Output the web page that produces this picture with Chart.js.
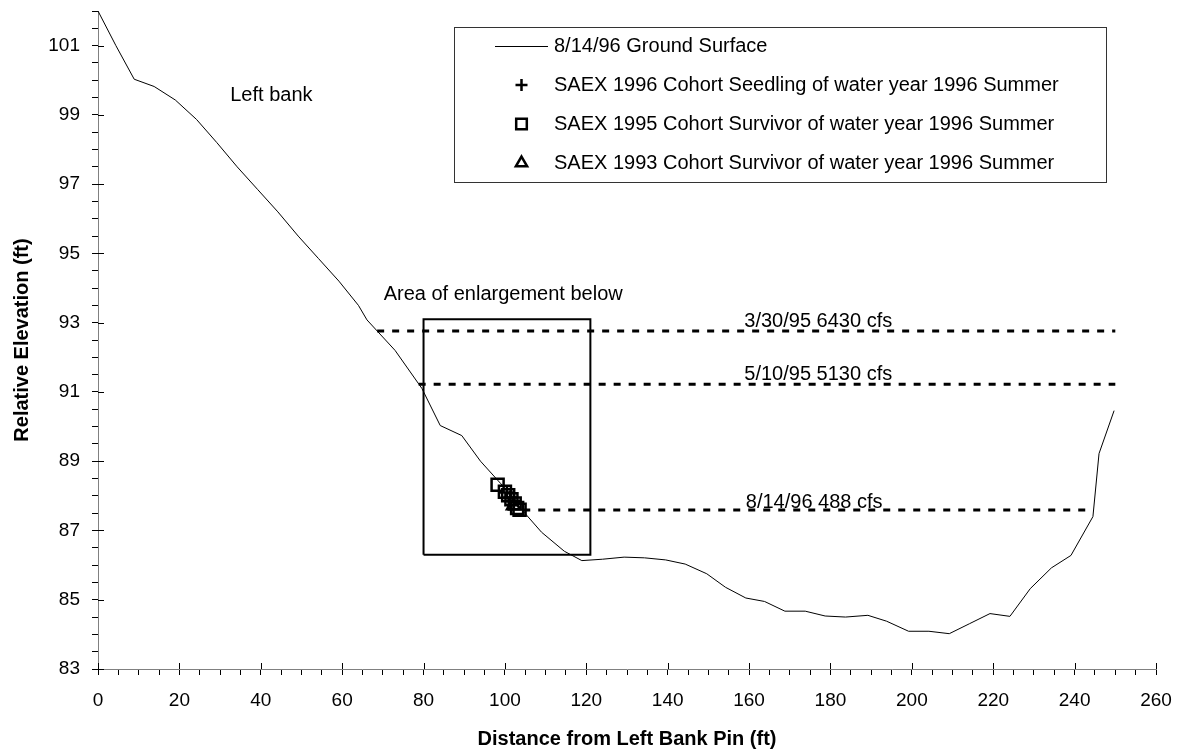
<!DOCTYPE html>
<html>
<head>
<meta charset="utf-8">
<script src="https://cdn.jsdelivr.net/npm/chart.js@4.4.0/dist/chart.umd.min.js"></script>
<style>
  body { margin: 0; background: #fff; }
  #wrap { width: 1181px; height: 754px; }
</style>
</head>
<body>
<div id="wrap"><canvas id="chart" width="1181" height="754"></canvas></div>
<script>
// ground survey 8/14/96
const groundDist = [0, 4.4, 8.9, 13.8, 19.0, 24.2, 29.2, 34.2, 39.2, 44.2, 49.2, 54.2, 59.2, 64.0, 66.1, 73.0, 79.6,
  84.1, 89.4, 94.0, 99.0, 104.0, 109.0, 114.6, 118.9, 124.0, 129.3, 134.3, 139.5, 144.3, 149.6, 154.2, 159.2,
  163.8, 168.8, 173.8, 178.7, 183.7, 189.2, 193.8, 199.2, 204.2, 209.2, 214.2, 219.2, 224.1, 229.1, 234.3,
  239.1, 244.5, 246.0, 249.7];
const groundElev = [102.0, 101.0, 100.03, 99.82, 99.43, 98.87, 98.2, 97.5, 96.85, 96.2, 95.5, 94.85, 94.2, 93.5, 93.08, 92.2, 91.1,
  90.03, 89.74, 89.0, 88.35, 87.62, 86.95, 86.4, 86.13, 86.17, 86.23, 86.21, 86.15, 86.03, 85.75, 85.36, 85.05,
  84.95, 84.67, 84.67, 84.53, 84.5, 84.55, 84.38, 84.09, 84.09, 84.02, 84.31, 84.6, 84.52, 85.32, 85.92,
  86.28, 87.4, 89.22, 90.46];

// plants
const seedling96Dist = [100.5, 101.3, 102.2];
const seedling96Elev = [88.1, 87.95, 87.85];
const survivor95Dist = [98.2, 100.0, 100.8, 101.6, 102.4, 103.0, 103.6];
const survivor95Elev = [88.32, 88.12, 88.02, 87.9, 87.78, 87.65, 87.6];
const survivor93Dist = [102.1];
const survivor93Elev = [87.72];

// water surfaces
const flowLabels = ['3/30/95 6430 cfs', '5/10/95 5130 cfs', '8/14/96 488 cfs'];
const flowElev = [92.76, 91.22, 87.59];
const flowStart = [68.6, 78.8, 104.5];
const flowEnd = [250, 250, 244.5];

// enlargement box corners
const boxDist = [80, 80, 121, 121, 80];
const boxElev = [86.3, 93.1, 93.1, 86.3, 86.3];

const seriesNames = ['8/14/96 Ground Surface',
  'SAEX 1996 Cohort Seedling of water year 1996 Summer',
  'SAEX 1995 Cohort Survivor of water year 1996 Summer',
  'SAEX 1993 Cohort Survivor of water year 1996 Summer'];

const xTicksMajor = [0, 20, 40, 60, 80, 100, 120, 140, 160, 180, 200, 220, 240, 260];
const yTicksMajor = [83, 85, 87, 89, 91, 93, 95, 97, 99, 101];

const FONT = "'Liberation Sans', Arial, sans-serif";

function pts(xs, ys) { return xs.map((v, i) => ({ x: v, y: ys[i] })); }

const datasets = [
  { label: seriesNames[0], data: pts(groundDist, groundElev), showLine: true, borderColor: '#000',
    borderWidth: 1, pointRadius: 0, legendKind: 'line' },
  { label: seriesNames[1], data: pts(seedling96Dist, seedling96Elev), pointStyle: 'cross', pointRadius: 7,
    borderColor: '#000', borderWidth: 2.5, backgroundColor: 'rgba(0,0,0,0)', legendKind: 'point' },
  { label: seriesNames[2], data: pts(survivor95Dist, survivor95Elev), pointStyle: 'rect', pointRadius: 8.5,
    borderColor: '#000', borderWidth: 2.5, backgroundColor: 'rgba(0,0,0,0)', legendKind: 'point' },
  { label: seriesNames[3], data: pts(survivor93Dist, survivor93Elev), pointStyle: 'triangle', pointRadius: 7.5,
    borderColor: '#000', borderWidth: 2.5, backgroundColor: 'rgba(0,0,0,0)', legendKind: 'point' }
];

flowElev.forEach((e, i) => {
  datasets.push({ label: flowLabels[i], data: [{ x: flowStart[i], y: e }, { x: flowEnd[i], y: e }],
    showLine: true, borderColor: '#000', borderWidth: 3, borderDash: [7, 8], pointRadius: 0 });
});
datasets.push({ label: 'box', data: pts(boxDist, boxElev), showLine: true, borderColor: '#000',
  borderWidth: 2, pointRadius: 0 });

// text notes, anchored in data units
const notes = [
  { text: 'Left bank', x: 32.5, y: 99.55, align: 'left' },
  { text: 'Area of enlargement below', x: 70.2, y: 93.8, align: 'left' },
  { text: flowLabels[0], x: 177, y: 93.03, align: 'center' },
  { text: flowLabels[1], x: 177, y: 91.49, align: 'center' },
  { text: flowLabels[2], x: 176, y: 87.8, align: 'center' }
];

const extras = {
  id: 'extras',
  afterDraw(chart) {
    const ctx = chart.ctx, xs = chart.scales.x, ys = chart.scales.y, a = chart.chartArea;
    ctx.save();
    // major ticks cross the axis
    ctx.strokeStyle = '#000';
    ctx.lineWidth = 1;
    ctx.beginPath();
    xTicksMajor.forEach(v => {
      const px = Math.round(xs.getPixelForValue(v)) + 0.5;
      ctx.moveTo(px, a.bottom); ctx.lineTo(px, a.bottom - 6);
    });
    yTicksMajor.forEach(v => {
      const py = Math.round(ys.getPixelForValue(v)) + 0.5;
      ctx.moveTo(a.left, py); ctx.lineTo(a.left + 6, py);
    });
    ctx.stroke();

    ctx.fillStyle = '#000';
    ctx.font = '20px ' + FONT;
    ctx.textBaseline = 'middle';
    notes.forEach(n => {
      ctx.textAlign = n.align;
      ctx.fillText(n.text, xs.getPixelForValue(n.x), ys.getPixelForValue(n.y));
    });

    // legend box
    const L = { left: 454.5, top: 27.5, width: 652, height: 155, symX: 521.5, textX: 554, rows: [46, 85, 124, 163] };
    ctx.fillStyle = '#fff';
    ctx.fillRect(L.left, L.top, L.width, L.height);
    ctx.strokeStyle = '#333';
    ctx.lineWidth = 1;
    ctx.strokeRect(L.left, L.top, L.width, L.height);
    chart.data.datasets.slice(0, 4).forEach((ds, i) => {
      const yy = L.rows[i];
      ctx.strokeStyle = '#000';
      if (ds.legendKind === 'line') {
        ctx.lineWidth = 1;
        ctx.beginPath();
        ctx.moveTo(495, yy + 0.5); ctx.lineTo(548, yy + 0.5);
        ctx.stroke();
      } else {
        ctx.lineWidth = ds.borderWidth;
        ctx.fillStyle = 'rgba(0,0,0,0)';
        Chart.helpers.drawPoint(ctx, { pointStyle: ds.pointStyle, radius: ds.pointRadius - 1,
          borderWidth: ds.borderWidth, rotation: 0 }, L.symX, yy);
      }
      ctx.fillStyle = '#000';
      ctx.textAlign = 'left';
      ctx.fillText(ds.label, L.textX, yy);
    });
    ctx.restore();
  }
};

new Chart(document.getElementById('chart'), {
  type: 'scatter',
  data: { datasets },
  options: {
    responsive: false,
    animation: false,
    layout: { padding: { left: 0, top: 7, right: 25, bottom: 0 } },
    plugins: { legend: { display: false }, tooltip: { enabled: false } },
    scales: {
      x: {
        type: 'linear', min: 0, max: 260,
        border: { color: '#808080', width: 1 },
        grid: { drawOnChartArea: false, drawTicks: true, tickLength: 6, color: '#000' },
        ticks: {
          stepSize: 5, autoSkip: false, maxRotation: 0, padding: 14, color: '#000',
          font: { family: FONT, size: 19 },
          callback: v => (v % 20 === 0 ? String(v) : '')
        },
        title: { display: true, text: 'Distance from Left Bank Pin (ft)', color: '#000',
          font: { family: FONT, size: 20, weight: 'bold' }, padding: { top: 0, bottom: 3 } },
        afterFit: s => { s.height = 85; s.paddingLeft = 0; s.paddingRight = 0; }
      },
      y: {
        type: 'linear', min: 83, max: 102,
        border: { color: '#808080', width: 1 },
        grid: { drawOnChartArea: false, drawTicks: true, tickLength: 6, color: '#000' },
        ticks: {
          stepSize: 0.5, autoSkip: false, padding: 12, color: '#000',
          font: { family: FONT, size: 19 },
          callback: v => (Number.isInteger(v) && (v - 83) % 2 === 0 && v < 102 ? String(v) : '')
        },
        title: { display: true, text: 'Relative Elevation (ft)', color: '#000',
          font: { family: FONT, size: 20, weight: 'bold' }, padding: { top: 10, bottom: 0 } },
        afterFit: s => { s.width = 98; s.paddingTop = 0; s.paddingBottom = 0; }
      }
    }
  },
  plugins: [extras]
});
</script>
</body>
</html>
